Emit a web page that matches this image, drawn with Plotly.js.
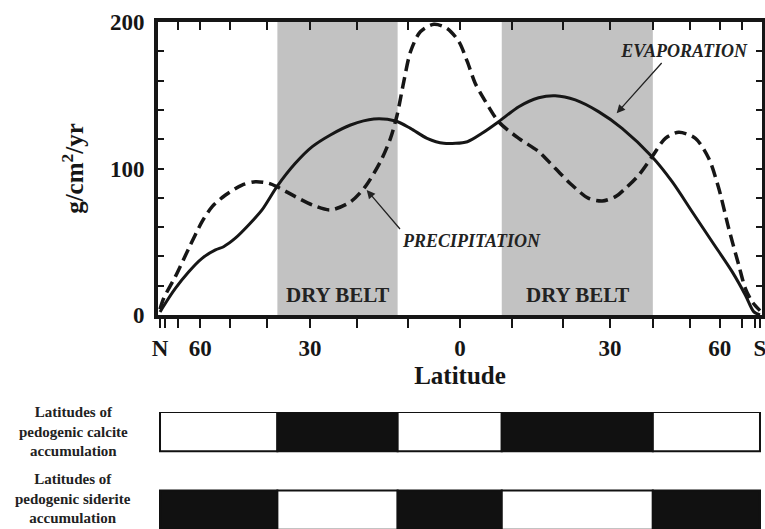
<!DOCTYPE html>
<html>
<head>
<meta charset="utf-8">
<script src="https://cdn.plot.ly/plotly-3.0.1.min.js"></script>
<style>html,body{margin:0;padding:0;background:#fff;}#chart{width:765px;height:529px;}</style>
</head>
<body>
<div id="chart"></div>
<script>
// ---- data (latitude in degrees, north positive) ----
const evapLat = [90, 83, 71.6, 64.7, 59.3, 54.6, 52.0, 48.5, 44.8, 41.3, 37.6, 33.3, 29.5, 25.6, 21.4, 16.7, 12.4, 9.5, 6.3, 3.1, -1.4, -4.2, -7.4, -11.3, -15.2, -18.5, -22.6, -27.5, -32.7, -39.8, -45.0, -50.7, -57.2, -65.1, -72.0, -78.2, -90];
const evaporation = [2, 4.6, 18.2, 29.6, 38.7, 44.4, 46.6, 52.4, 61.4, 71.7, 87.6, 103.5, 114.9, 122.9, 129.7, 133.8, 132.4, 127.4, 120.6, 117.2, 118.3, 124, 131.9, 142.2, 148.3, 149.7, 146.8, 138.8, 127.4, 108, 91, 70.5, 50, 29.6, 13.7, 2.3, 0];

const precipLat = [90, 81.0, 71.6, 64.7, 59.3, 55.7, 51.4, 46.6, 43.0, 39.6, 37.6, 33.3, 29.5, 25.6, 21.4, 18.4, 15.4, 13.4, 12.1, 10.8, 9.5, 7.6, 5.0, 2.5, 0.2, -1.4, -2.9, -4.9, -7.4, -11.3, -15.2, -18.5, -21.9, -25.4, -28.3, -31.2, -33.5, -36.6, -39.8, -43.2, -46.8, -51.7, -56.0, -59.6, -63.6, -68.3, -72.0, -76.8, -90];
const precipitation = [4, 11.4, 26.2, 45.5, 63.7, 74, 81.9, 88.7, 91, 89.9, 87.6, 80.8, 75.1, 71.7, 77.3, 87.6, 104.6, 120.6, 136.5, 159.3, 179.7, 193.4, 198.4, 195.7, 186.6, 172.9, 158.2, 145.6, 131.9, 120.6, 111.5, 100.1, 88.7, 79.6, 77.8, 80.8, 86.5, 95.6, 108, 120.6, 124.7, 120.6, 107, 86.5, 59.2, 34.1, 18.2, 9.1, 3];

// dry belts (north edge, south edge)
const dryBelts = [[37.5, 12], [-8, -40]];
const dryBeltLabel = "DRY BELT";

// zone edges from N pole to S pole, and fill of each zone (1 = black)
const zoneEdges = [90, 37.5, 12, -8, -40, -90];
const calciteZones = [0, 1, 0, 1, 0];
const sideriteZones = [1, 0, 1, 0, 1];
const calciteLabel = "Latitudes of<br>pedogenic calcite<br>accumulation";
const sideriteLabel = "Latitudes of<br>pedogenic siderite<br>accumulation";

// axis ticks
const bottomTickLats = [90, 80, 70, 60, 50, 40, 30, 20, 10, 0, -10, -20, -30, -40, -50, -60, -70, -80, -90];
const tickLabels = {"90": "N", "60": "60", "30": "30", "0": "0", "-30": "30", "-60": "60", "-90": "S"};
const topTickLats = [70, 60, 50, 40, 30, 20, 10, 0, -10, -20, -30, -40, -50, -60, -70];
const yTicks = [0, 20, 40, 60, 80, 100, 120, 140, 160, 180, 200];
const yTickLabels = ["0", "", "", "", "", "100", "", "", "", "", "200"];

// ---- scale: area-true latitude (sine), north on the left ----
const pos = lat => -Math.sin(lat * Math.PI / 180);

const FONT = "Liberation Serif, Times New Roman, serif";
const INK = "#161616";
const XR = [-1.0067, 1.0067];

const beltX = dryBelts.map(b => (pos(b[0]) + pos(b[1])) / 2);
const beltW = dryBelts.map(b => Math.abs(pos(b[1]) - pos(b[0])));

function zoneTrace(zones, yval, name) {
  const base = [], len = [], col = [];
  for (let i = 0; i < zones.length; i++) {
    const a = pos(zoneEdges[i]), b = pos(zoneEdges[i + 1]);
    base.push(a); len.push(b - a);
    col.push(zones[i] ? "#111111" : "#ffffff");
  }
  return {
    type: "bar", orientation: "h", name: name,
    y: zones.map(() => yval), x: len, base: base, width: 0.5,
    marker: {color: col, line: {color: "#111111", width: 2}},
    xaxis: "x3", yaxis: "y3", hoverinfo: "skip"
  };
}

const traces = [
  {
    type: "bar", x: beltX, y: dryBelts.map(() => 200), base: 0, width: beltW,
    marker: {color: "#c2c2c2", line: {width: 0}}, xaxis: "x", yaxis: "y",
    name: "Dry belt", hoverinfo: "skip"
  },
  {
    type: "scatter", mode: "lines", name: "Evaporation",
    x: evapLat.map(pos), y: evaporation,
    line: {color: INK, width: 3, shape: "spline", smoothing: 0.8},
    xaxis: "x2", yaxis: "y2", hoverinfo: "skip"
  },
  {
    type: "scatter", mode: "lines", name: "Precipitation",
    x: precipLat.map(pos), y: precipitation,
    line: {color: INK, width: 3.5, dash: "12px,6px", shape: "spline", smoothing: 0.8},
    xaxis: "x2", yaxis: "y2", hoverinfo: "skip"
  },
  zoneTrace(calciteZones, 1, "Calcite"),
  zoneTrace(sideriteZones, 0, "Siderite")
];

const tickFont = {family: FONT, size: 23, color: INK, weight: 700};
const titleFont = {family: FONT, size: 25, color: INK, weight: 700};
const labelFont = {family: FONT, size: 18, color: "#222", weight: 700, style: "italic"};

const annotations = [];
dryBelts.forEach((b, i) => {
  annotations.push({
    xref: "x", yref: "y", x: beltX[i], y: 13.7, text: dryBeltLabel, showarrow: false,
    font: {family: FONT, size: 21, color: "#222", weight: 700}
  });
});
// label with its pointer arrow (text box sits above the arrow tail, text right-aligned)
annotations.push({
  xref: "x", yref: "y", x: 0.5223, y: 137.7, axref: "x", ayref: "y", ax: 0.6723, ay: 172.0,
  text: "EVAPORATION", xanchor: "center", yanchor: "bottom", width: 173, align: "right",
  showarrow: true, arrowhead: 2, arrowsize: 1.3, arrowwidth: 1.3, arrowcolor: "#222",
  font: labelFont
});
annotations.push({
  xref: "x", yref: "y", x: -0.311, y: 85.3, axref: "x", ayref: "y", ax: -0.2, ay: 58.7,
  text: "PRECIPITATION", xanchor: "left", yanchor: "top",
  showarrow: true, arrowhead: 2, arrowsize: 1.3, arrowwidth: 1.3, arrowcolor: "#222",
  font: labelFont
});
[[calciteLabel, 1, 0], [sideriteLabel, 0, 12]].forEach(([t, yv, sh]) => {
  annotations.push({
    xref: "paper", yref: "y3", x: -0.1407, y: yv, yshift: sh, text: t,
    showarrow: false, xanchor: "center", yanchor: "middle", align: "center",
    font: {family: FONT, size: 15, color: "#222", weight: 700}
  });
});

const layout = {
  width: 765, height: 529,
  margin: {l: 158, r: 3, t: 22, b: 0, pad: 0},
  paper_bgcolor: "#ffffff", plot_bgcolor: "rgba(0,0,0,0)",
  showlegend: false, barmode: "overlay", hovermode: false,
  xaxis: {
    domain: [0, 1], anchor: "y", range: XR, tickmode: "array",
    tickvals: bottomTickLats.map(pos), ticktext: bottomTickLats.map(l => tickLabels[String(l)] || ""),
    ticks: "outside", ticklen: 9, tickwidth: 2, tickcolor: INK,
    showline: true, linewidth: 4, linecolor: INK, mirror: true,
    showgrid: false, zeroline: false, tickfont: tickFont, ticklabelstandoff: 0,
    ticklabeloverflow: "allow",
    title: {text: "Latitude", font: titleFont, standoff: 8}
  },
  yaxis: {
    domain: [0.4221, 1], anchor: "x", range: [0, 200], tickmode: "array",
    tickvals: yTicks, ticktext: yTickLabels,
    ticks: "inside", ticklen: 6, tickwidth: 2, tickcolor: INK,
    showline: true, linewidth: 4, linecolor: INK, mirror: true,
    showgrid: false, zeroline: false, tickfont: tickFont, ticklabelstandoff: 5,
    ticklabeloverflow: "allow",
    title: {text: "g/cm<sup>2</sup>/yr", font: titleFont, standoff: 20}
  },
  xaxis2: {
    overlaying: "x", side: "top", anchor: "y2", range: XR, tickmode: "array",
    tickvals: topTickLats.map(pos), ticks: "inside", ticklen: 8, tickwidth: 2, tickcolor: INK,
    showticklabels: false, showline: false, showgrid: false, zeroline: false
  },
  yaxis2: {
    overlaying: "y", side: "right", anchor: "x2", range: [0, 200], tickmode: "array",
    tickvals: yTicks, ticks: "inside", ticklen: 6, tickwidth: 2, tickcolor: INK,
    showticklabels: false, showline: false, showgrid: false, zeroline: false
  },
  xaxis3: {domain: [0, 1], anchor: "y3", range: XR, visible: false, fixedrange: true},
  yaxis3: {domain: [0, 0.2308], anchor: "x3", range: [-0.24, 1.25], visible: false, fixedrange: true},
  annotations: annotations
};

Plotly.newPlot("chart", traces, layout, {staticPlot: true, displayModeBar: false});
</script>
</body>
</html>
